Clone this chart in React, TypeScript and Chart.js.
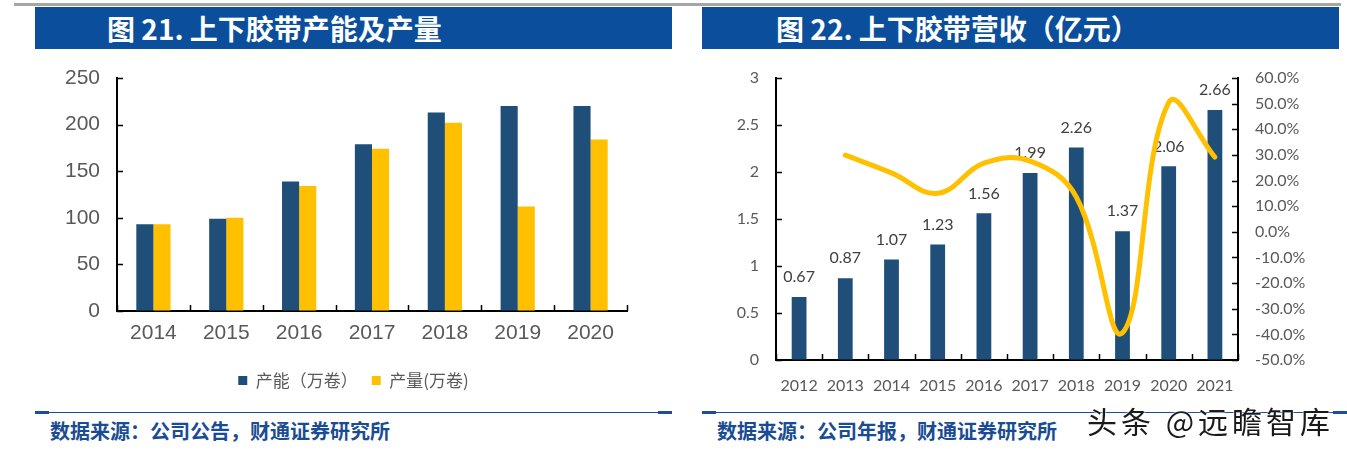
import React, { useEffect, useRef } from "react";
import { Chart, registerables } from "chart.js";

Chart.register(...registerables);

// ---------- Data ----------
const leftYears = ["2014", "2015", "2016", "2017", "2018", "2019", "2020"];
const capacityLabel = "产能（万卷）";
const outputLabel = "产量(万卷)";
const capacity = [93, 99, 139, 179, 213, 220, 220];
const output = [93, 100, 134, 174, 202, 112, 184];

const rightYears = ["2012", "2013", "2014", "2015", "2016", "2017", "2018", "2019", "2020", "2021"];
const revenue = [0.67, 0.87, 1.07, 1.23, 1.56, 1.99, 2.26, 1.37, 2.06, 2.66];
const growth = [null, 29.9, 23.0, 15.0, 26.8, 27.6, 13.6, -39.4, 50.4, 29.1];

const leftTitle = "图 21. 上下胶带产能及产量";
const rightTitle = "图 22. 上下胶带营收（亿元）";
const leftSource = "数据来源：公司公告，财通证券研究所";
const rightSource = "数据来源：公司年报，财通证券研究所";
const watermark = "头条 @远瞻智库";

// ---------- Styles ----------
const BLUE = "#1F4E79";
const GOLD = "#FFC000";
const TICK_GREY = "#595959";
const NARROW = '"Liberation Sans Narrow", "Liberation Sans", sans-serif';
const CAL = 'Lato, "Noto Sans", sans-serif';
const CJK = '"Noto Sans CJK SC", sans-serif';

// draws short tick marks pointing into the plot area
const innerTicks = {
  id: "innerTicks",
  afterDraw(chart: any) {
    const ctx = chart.ctx;
    const L = 6;
    ctx.save();
    ctx.strokeStyle = "#000";
    ctx.lineWidth = 1.5;
    Object.values(chart.scales).forEach((s: any) => {
      if (!s.options.border || s.options.border.display === false) return;
      ctx.beginPath();
      if (s.axis === "x") {
        const n = s.ticks.length;
        for (let i = 0; i <= n; i++) {
          const x = Math.round(s.getPixelForValue(i - 0.5)) + 0.5;
          ctx.moveTo(x, s.top);
          ctx.lineTo(x, s.top - L);
        }
      } else {
        s.ticks.forEach((t: any) => {
          const y = Math.round(s.getPixelForValue(t.value)) + 0.5;
          if (s.position === "left") {
            ctx.moveTo(s.right, y);
            ctx.lineTo(s.right + L, y);
          } else {
            ctx.moveTo(s.left, y);
            ctx.lineTo(s.left - L, y);
          }
        });
      }
      ctx.stroke();
    });
    ctx.restore();
  },
};

const fixLegend = {
  id: "fixLegend",
  beforeInit(chart: any) {
    const lg = chart.legend;
    if (!lg) return;
    const fit = lg.fit;
    lg.fit = function () {
      fit.call(this);
      this.height = 44;
    };
  },
};

const barLabels = {
  id: "barLabels",
  afterDatasetDraw(chart: any, args: any) {
    const ds = chart.data.datasets[args.index];
    if (ds.type !== "bar") return;
    const ctx = chart.ctx;
    ctx.save();
    ctx.font = `16px ${CAL}`;
    ctx.fillStyle = "#404040";
    ctx.textAlign = "center";
    ctx.textBaseline = "middle";
    args.meta.data.forEach((el: any, i: number) => {
      ctx.fillText(Number(ds.data[i]).toFixed(2), el.x, el.y - 20);
    });
    ctx.restore();
  },
};

const fixY = (w: number) => (s: any) => {
  s.width = w;
  s.paddingTop = 0;
  s.paddingBottom = 0;
};

function LeftChart() {
  const ref = useRef<HTMLCanvasElement>(null);
  useEffect(() => {
    const chart = new Chart(ref.current!, {
      type: "bar",
      data: {
        labels: leftYears,
        datasets: [
          { label: capacityLabel, data: capacity, backgroundColor: BLUE, categoryPercentage: 0.47, barPercentage: 1 },
          { label: outputLabel, data: output, backgroundColor: GOLD, categoryPercentage: 0.47, barPercentage: 1 },
        ],
      },
      options: {
        responsive: false,
        animation: false,
        layout: { padding: { top: 18, right: 0, left: 0, bottom: 0 } },
        plugins: {
          tooltip: { enabled: false },
          legend: {
            position: "bottom",
            labels: {
              boxWidth: 9,
              boxHeight: 9,
              padding: 14,
              color: TICK_GREY,
              font: { family: CJK, size: 17 },
            },
          },
        },
        scales: {
          x: {
            grid: { display: true, drawOnChartArea: false, drawTicks: false },
            border: { display: true, color: "#000", width: 2 },
            ticks: { color: TICK_GREY, font: { family: NARROW, size: 21 }, padding: 10, maxRotation: 0, autoSkip: false },
            afterFit: (s: any) => { s.height = 47; },
          },
          y: {
            position: "left",
            min: 0,
            max: 250,
            ticks: { stepSize: 50, color: TICK_GREY, font: { family: NARROW, size: 21 }, padding: 17 },
            grid: { display: true, drawOnChartArea: false, drawTicks: false },
            border: { display: true, color: "#000", width: 2 },
            afterFit: fixY(82),
          },
          yR: {
            position: "right",
            display: true,
            grid: { display: false },
            border: { display: false },
            ticks: { display: false },
            afterFit: fixY(45),
          },
        },
      },
      plugins: [innerTicks, fixLegend],
    } as any);
    return () => chart.destroy();
  }, []);
  return <canvas ref={ref} width={637} height={342} style={{ position: "absolute", left: 35, top: 60 }} />;
}

function RightChart() {
  const ref = useRef<HTMLCanvasElement>(null);
  useEffect(() => {
    const chart = new Chart(ref.current!, {
      data: {
        labels: rightYears,
        datasets: [
          {
            type: "line",
            label: "增速",
            data: growth,
            yAxisID: "y1",
            borderColor: GOLD,
            borderWidth: 5,
            pointRadius: 0,
            tension: 0.4,
            borderCapStyle: "round",
            order: 0,
          },
          {
            type: "bar",
            label: "营收",
            data: revenue,
            yAxisID: "y",
            backgroundColor: BLUE,
            categoryPercentage: 0.32,
            barPercentage: 1,
            order: 1,
          },
        ],
      },
      options: {
        responsive: false,
        animation: false,
        layout: { padding: { top: 18, right: 0, left: 0, bottom: 0 }, autoPadding: false },
        plugins: { tooltip: { enabled: false }, legend: { display: false } },
        scales: {
          x: {
            type: "category",
            offset: true,
            grid: { display: true, drawOnChartArea: false, drawTicks: false, offset: true },
            border: { display: true, color: "#000", width: 2 },
            ticks: { color: TICK_GREY, font: { family: CAL, size: 16 }, padding: 16, maxRotation: 0, autoSkip: false },
            afterFit: (s: any) => { s.height = 40; },
          },
          y: {
            position: "left",
            min: 0,
            max: 3,
            ticks: {
              stepSize: 0.5,
              color: TICK_GREY,
              font: { family: CAL, size: 16 },
              padding: 17,
              callback: (v: any) => String(Number(v)),
            },
            grid: { display: true, drawOnChartArea: false, drawTicks: false },
            border: { display: true, color: "#000", width: 2 },
            afterFit: fixY(74),
          },
          y1: {
            position: "right",
            min: -50,
            max: 60,
            ticks: {
              stepSize: 10,
              color: TICK_GREY,
              font: { family: CAL, size: 16 },
              padding: 17,
              callback: (v: any) => Number(v).toFixed(1) + "%",
            },
            grid: { display: true, drawOnChartArea: false, drawTicks: false },
            border: { display: true, color: "#000", width: 2 },
            afterFit: fixY(101),
          },
        },
      },
      plugins: [innerTicks, barLabels],
    } as any);
    return () => chart.destroy();
  }, []);
  return <canvas ref={ref} width={637} height={340} style={{ position: "absolute", left: 702, top: 60 }} />;
}

function TitleBar({ left, text }: { left: number; text: string }) {
  return (
    <div
      style={{
        position: "absolute",
        left,
        top: 7,
        width: 637,
        height: 42,
        background: "#0B4F9C",
        color: "#fff",
        fontFamily: CJK,
        fontWeight: 700,
        fontSize: 28,
        lineHeight: "42px",
        whiteSpace: "nowrap",
      }}
    >
      <span style={{ position: "absolute", left: left === 35 ? 72 : 74 }}>{text}</span>
    </div>
  );
}

function SourceRule({ left, width, text, textLeft }: { left: number; width: number; text: string; textLeft: number }) {
  const c = "#1B4F9A";
  return (
    <>
      <div style={{ position: "absolute", left, top: 412, width, height: 1, background: c }} />
      <div style={{ position: "absolute", left, top: 411, width: 14, height: 3, background: c }} />
      <div style={{ position: "absolute", left: left + width - 14, top: 411, width: 14, height: 3, background: c }} />
      <div
        style={{
          position: "absolute",
          left: textLeft,
          top: 418,
          fontFamily: CJK,
          fontWeight: 700,
          fontSize: 20,
          lineHeight: "26px",
          color: "#1A4C93",
          whiteSpace: "nowrap",
        }}
      >
        {text}
      </div>
    </>
  );
}

export default function App() {
  return (
    <div style={{ position: "absolute", left: 0, top: 0, width: 1347, height: 452, background: "#fff", overflow: "hidden" }}>
      <div style={{ position: "absolute", left: 14, top: 3, width: 1327, height: 3, background: "#A6A6A6" }} />
      <TitleBar left={35} text={leftTitle} />
      <TitleBar left={702} text={rightTitle} />
      <LeftChart />
      <RightChart />
      <SourceRule left={35} width={637} text={leftSource} textLeft={50} />
      <SourceRule left={702} width={645} text={rightSource} textLeft={717} />
      <div
        style={{
          position: "absolute",
          left: 1087,
          top: 400,
          fontFamily: CJK,
          fontSize: 30,
          lineHeight: "40px",
          letterSpacing: 4,
          color: "#1a1a1a",
          whiteSpace: "nowrap",
          textShadow: "0 0 2px #fff, 0 0 2px #fff",
        }}
      >
        {watermark}
      </div>
    </div>
  );
}
